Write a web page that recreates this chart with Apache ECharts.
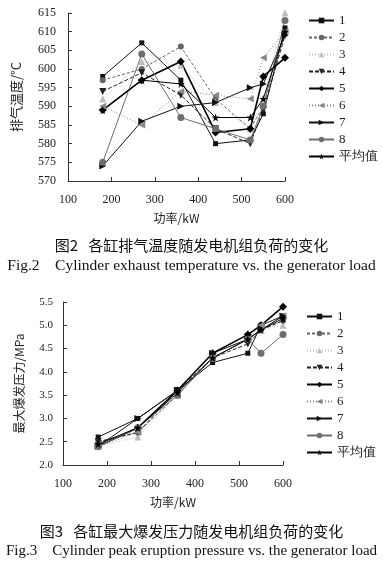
<!DOCTYPE html>
<html><head><meta charset="utf-8">
<script src="https://cdn.jsdelivr.net/npm/echarts@6/dist/echarts.min.js"></script>
<style>html,body{margin:0;padding:0;background:#fff}#c{width:383px;height:565px}</style>
</head><body><div id="c"></div>
<script>
const power = [180, 270, 360, 440, 520, 550, 600];
const seriesNames = ['1','2','3','4','5','6','7','8','平均值'];
// Fig.2 exhaust temperature (°C)
const temp1 = [598, 607, 597, 580, 581, 588, 611];
const temp2 = [597, 600, 606, 592, 584, 590, 610];
const temp3 = [592, 602, 601, 591, 584, 592, 615];
const temp4 = [594, 599, 593, 584, 580, 589, 609];
const temp5 = [589, 597, 602, 583, 584, 598, 603];
const temp6 = [590, 585, 594, 593, 592, 603, 610];
const temp7 = [574, 586, 590, 591, 595, 596, 609];
const temp8 = [575, 604, 587, 584, 581, 590, 613];
const tempAvg = [589, 597, 596, 587, 587, 592, 610];
// Fig.3 peak pressure (MPa)
const pres1 = [2.6, 3.0, 3.6, 4.2, 4.4, 5.0, 5.2];
const pres2 = [2.5, 2.7, 3.5, 4.3, 4.7, 4.9, 5.1];
const pres3 = [2.4, 2.6, 3.5, 4.3, 4.7, 4.9, 5.0];
const pres4 = [2.5, 2.7, 3.6, 4.3, 4.6, 4.9, 5.1];
const pres5 = [2.4, 2.8, 3.6, 4.4, 4.8, 5.0, 5.4];
const pres6 = [2.4, 2.7, 3.5, 4.3, 4.7, 5.0, 5.2];
const pres7 = [2.4, 3.0, 3.6, 4.4, 4.7, 4.9, 5.2];
const pres8 = [2.4, 2.8, 3.5, 4.3, 4.7, 4.4, 4.8];
const presAvg = [2.45, 2.8, 3.55, 4.3, 4.7, 4.9, 5.15];
const xTicks = [100, 600, 100];
const tempTicks = [570, 615, 5];
const presTicks = [2.0, 5.5, 0.5];

const tempData = [temp1,temp2,temp3,temp4,temp5,temp6,temp7,temp8,tempAvg];
const presData = [pres1,pres2,pres3,pres4,pres5,pres6,pres7,pres8,presAvg];

const STAR = 'path://M5,0 L6.2,3.6 L10,3.6 L6.9,5.9 L8.1,9.5 L5,7.3 L1.9,9.5 L3.1,5.9 L0,3.6 L3.8,3.6 Z';
const styles = [
  {symbol:'rect', size:5, color:'#111', type:'solid', w:1},
  {symbol:'circle', size:6, color:'#666', type:[3,2], w:1},
  {symbol:'triangle', size:7, color:'#bdbdbd', type:[1,2], w:1},
  {symbol:'path://M0,0 L10,0 L5,10 Z', size:7, color:'#222', type:[4,2], w:1},
  {symbol:'diamond', size:8, color:'#000', type:'solid', w:1.6},
  {symbol:'path://M0,5 L10,0 L10,10 Z', size:7, color:'#888', type:[1,2], w:1},
  {symbol:'path://M0,0 L10,5 L0,10 Z', size:7, color:'#111', type:'solid', w:1},
  {symbol:'circle', size:7, color:'#6e6e6e', type:'solid', w:1},
  {symbol:STAR, size:8, color:'#000', type:'solid', w:1}
];

const serif = '"Liberation Serif", "Times New Roman", serif';
const cjk = '"Noto Sans CJK SC", sans-serif';

function mkSeries(dataArr, idx) {
  return dataArr.map((vals, i) => ({
    name: seriesNames[i], type: 'line', xAxisIndex: idx, yAxisIndex: idx,
    data: power.map((p, j) => [p, vals[j]]),
    symbol: styles[i].symbol, symbolSize: styles[i].size,
    lineStyle: {color: styles[i].color, type: styles[i].type, width: styles[i].w},
    itemStyle: {color: styles[i].color, borderWidth: 0},
    emphasis: {disabled: true}, animation: false
  }));
}

function xAx(idx) {
  return {
    gridIndex: idx, type: 'value', min: xTicks[0], max: xTicks[1], interval: xTicks[2],
    name: '功率/kW', nameLocation: 'middle', nameGap: 31,
    nameTextStyle: {fontFamily: cjk, fontSize: 12, color: '#222'},
    axisLine: {lineStyle: {color: '#333', width: 1}},
    axisTick: {inside: true, length: 4, lineStyle: {color: '#333'}},
    axisLabel: {fontFamily: serif, fontSize: 12, color: '#222', margin: 13},
    splitLine: {show: false}
  };
}

const legendCommon = {
  orient: 'vertical', itemWidth: 25, itemHeight: 7, itemGap: 4,
  textStyle: {fontFamily: serif, fontSize: 13, color: '#222'},
  data: seriesNames, selectedMode: false
};

const chart = echarts.init(document.getElementById('c'));
chart.setOption({
  animation: false,
  grid: [
    {left: 68, right: 98, top: 13, height: 168},
    {left: 63, right: 100, top: 302, height: 163}
  ],
  xAxis: [xAx(0), xAx(1)],
  yAxis: [
    {gridIndex: 0, type: 'value', min: tempTicks[0], max: tempTicks[1], interval: tempTicks[2],
     name: '排气温度/°C', nameLocation: 'middle', nameGap: 45, nameRotate: 90,
     nameTextStyle: {fontFamily: cjk, fontSize: 13, color: '#222'},
     axisLine: {show: true, lineStyle: {color: '#333'}},
     axisTick: {show: true, inside: true, length: 4, lineStyle: {color: '#333'}},
     axisLabel: {fontFamily: serif, fontSize: 12, color: '#222', margin: 12},
     splitLine: {show: false}},
    {gridIndex: 1, type: 'value', min: presTicks[0], max: presTicks[1], interval: presTicks[2],
     name: '最大爆发压力/MPa', nameLocation: 'middle', nameGap: 38, nameRotate: 90,
     nameTextStyle: {fontFamily: cjk, fontSize: 12, color: '#222'},
     axisLine: {show: true, lineStyle: {color: '#333'}},
     axisTick: {show: true, inside: true, length: 4, lineStyle: {color: '#333'}},
     axisLabel: {fontFamily: serif, fontSize: 11, color: '#222', margin: 10,
                 formatter: v => v.toFixed(1)},
     splitLine: {show: false}}
  ],
  legend: [
    Object.assign({left: 303, top: 9}, legendCommon),
    Object.assign({left: 301, top: 305}, legendCommon)
  ],
  series: mkSeries(tempData, 0).concat(mkSeries(presData, 1)),
  graphic: [
    {type: 'text', left: 'center', top: 238, style: {text: '图2   各缸排气温度随发电机组负荷的变化', font: '15px ' + cjk, fill: '#111'}},
    {type: 'text', left: 'center', top: 258, style: {text: 'Fig.2    Cylinder exhaust temperature vs. the generator load', font: '15.5px ' + serif, fill: '#111'}},
    {type: 'text', left: 'center', top: 524, style: {text: '图3   各缸最大爆发压力随发电机组负荷的变化', font: '15px ' + cjk, fill: '#111'}},
    {type: 'text', left: 'center', top: 544, style: {text: 'Fig.3    Cylinder peak eruption pressure vs. the generator load', font: '15px ' + serif, fill: '#111'}}
  ]
});
</script></body></html>
